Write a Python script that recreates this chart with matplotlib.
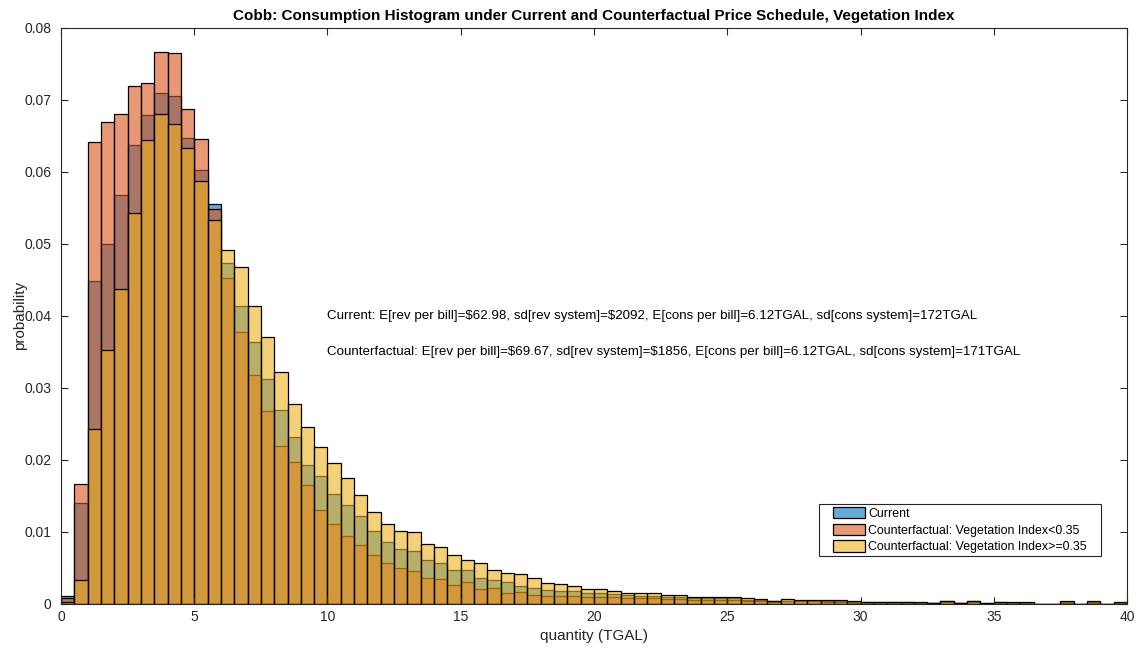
import numpy as np
import matplotlib
matplotlib.use("Agg")
import matplotlib.pyplot as plt
from matplotlib.patches import Rectangle

# ---------------- data ----------------
bin_width = 0.5
bin_start = 0.0
n_bins = 80

current = [
    0.0011, 0.0140, 0.0448, 0.0500, 0.0568, 0.0637, 0.0679, 0.0710, 0.0706, 0.0647,
    0.0602, 0.0556, 0.0474, 0.0413, 0.0363, 0.0312, 0.0269, 0.0231, 0.0193, 0.0177,
    0.0152, 0.0137, 0.0122, 0.0101, 0.0086, 0.0076, 0.0073, 0.0060, 0.0056, 0.0047,
    0.0047, 0.0035, 0.0033, 0.0030, 0.0025, 0.0022, 0.0019, 0.0018, 0.0017, 0.0015,
    0.0015, 0.0013, 0.0012, 0.0011, 0.0010, 0.0009, 0.0009, 0.0007, 0.0007, 0.0007,
    0.0007, 0.0005, 0.0005, 0.0003, 0.0004, 0.0004, 0.0004, 0.0003, 0.0003, 0.0002,
    0.0002, 0.0002, 0.0002, 0.0002, 0.0001, 0.0001, 0.0003, 0.0001, 0.0003, 0.0001,
    0.0002, 0.0001, 0.0001, 0.0000, 0.0000, 0.0002, 0.0000, 0.0002, 0.0000, 0.0001,
]

cf_low = [
    0.0007, 0.0166, 0.0642, 0.0669, 0.0681, 0.0720, 0.0723, 0.0766, 0.0765, 0.0688,
    0.0645, 0.0549, 0.0452, 0.0378, 0.0317, 0.0268, 0.0219, 0.0197, 0.0165, 0.0130,
    0.0110, 0.0094, 0.0081, 0.0068, 0.0057, 0.0049, 0.0045, 0.0036, 0.0034, 0.0026,
    0.0030, 0.0020, 0.0021, 0.0014, 0.0016, 0.0012, 0.0010, 0.0010, 0.0010, 0.0009,
    0.0009, 0.0009, 0.0008, 0.0007, 0.0007, 0.0006, 0.0006, 0.0005, 0.0005, 0.0005,
    0.0005, 0.0004, 0.0003, 0.0002, 0.0003, 0.0003, 0.0003, 0.0002, 0.0002, 0.0001,
    0.0001, 0.0001, 0.0001, 0.0001, 0.0001, 0.0001, 0.0002, 0.0001, 0.0002, 0.0000,
    0.0001, 0.0001, 0.0001, 0.0000, 0.0000, 0.0001, 0.0000, 0.0001, 0.0000, 0.0001,
]

cf_high = [
    0.0002, 0.0033, 0.0243, 0.0352, 0.0437, 0.0543, 0.0644, 0.0681, 0.0666, 0.0633,
    0.0587, 0.0533, 0.0491, 0.0468, 0.0413, 0.0370, 0.0322, 0.0277, 0.0246, 0.0217,
    0.0196, 0.0174, 0.0151, 0.0127, 0.0111, 0.0101, 0.0099, 0.0083, 0.0078, 0.0068,
    0.0061, 0.0056, 0.0046, 0.0043, 0.0041, 0.0035, 0.0028, 0.0027, 0.0024, 0.0020,
    0.0020, 0.0017, 0.0015, 0.0015, 0.0014, 0.0012, 0.0012, 0.0009, 0.0009, 0.0009,
    0.0009, 0.0007, 0.0006, 0.0004, 0.0006, 0.0005, 0.0005, 0.0005, 0.0005, 0.0003,
    0.0002, 0.0002, 0.0002, 0.0002, 0.0002, 0.0001, 0.0004, 0.0001, 0.0004, 0.0001,
    0.0002, 0.0002, 0.0002, 0.0000, 0.0000, 0.0003, 0.0000, 0.0003, 0.0000, 0.0002,
]

series_labels = ["Current",
                 "Counterfactual: Vegetation Index<0.35",
                 "Counterfactual: Vegetation Index>=0.35"]

title = "Cobb: Consumption Histogram under Current and Counterfactual Price Schedule, Vegetation Index"
xlabel = "quantity (TGAL)"
ylabel = "probability"
note_current = ("Current: E[rev per bill]=$62.98, sd[rev system]=$2092, "
                "E[cons per bill]=6.12TGAL, sd[cons system]=172TGAL")
note_cf = ("Counterfactual: E[rev per bill]=$69.67, sd[rev system]=$1856, "
           "E[cons per bill]=6.12TGAL, sd[cons system]=171TGAL")

xticks = [0, 5, 10, 15, 20, 25, 30, 35, 40]
yticks = [0, 0.01, 0.02, 0.03, 0.04, 0.05, 0.06, 0.07, 0.08]
ytick_labels = ["0", "0.01", "0.02", "0.03", "0.04", "0.05", "0.06", "0.07", "0.08"]

# ---------------- style ----------------
plt.rcParams['font.family'] = ['Liberation Sans', 'DejaVu Sans']
axis_col = (0.15, 0.15, 0.15)
colors = [(0.0, 0.447, 0.741), (0.850, 0.325, 0.098), (0.929, 0.694, 0.125)]
face_alpha = 0.6

fig = plt.figure(figsize=(11.42, 6.54), dpi=100)
ax = fig.add_axes([0.0534, 0.0772, 0.9335, 0.8800])

left_edges = bin_start + bin_width * np.arange(n_bins)
for vals, col, lab in zip([current, cf_low, cf_high], colors, series_labels):
    ax.bar(left_edges, vals, width=bin_width, align='edge',
           facecolor=(*col, face_alpha), edgecolor='black', linewidth=0.9,
           label=lab)

ax.set_xlim(0, 40)
ax.set_ylim(0, 0.08)
ax.set_xticks(xticks)
ax.set_yticks(yticks)
ax.set_yticklabels(ytick_labels)
ax.tick_params(direction='in', length=5, width=0.8, colors=axis_col,
               labelsize=10, top=True, right=True, labelcolor=axis_col)
ax.tick_params(axis='x', pad=5)
ax.tick_params(axis='y', pad=7)
for sp in ax.spines.values():
    sp.set_color(axis_col)
    sp.set_linewidth(0.8)

ax.set_title(title, fontsize=11, fontweight='bold', color='black', pad=6)
ax.set_xlabel(xlabel, fontsize=11, color=axis_col, labelpad=3)
ax.set_ylabel(ylabel, fontsize=11, color=axis_col)
ax.yaxis.set_label_coords(-0.032, 0.5)

ax.text(10, 0.04, note_current, fontsize=9.65, va='center', ha='left',
        color='black', parse_math=False)
ax.text(10, 0.035, note_cf, fontsize=9.65, va='center', ha='left',
        color='black', parse_math=False)

# legend: content placed inside a manually drawn frame (wide side padding)
leg = ax.legend(loc='upper right', bbox_to_anchor=(1087 / 1142, 1 - 507 / 654),
                bbox_transform=fig.transFigure,
                borderaxespad=0, fontsize=8.9, frameon=False,
                handlelength=2.6, handleheight=1.05, handletextpad=0.3,
                labelspacing=0.3, borderpad=0.0)
fig.canvas.draw()
bb = leg.get_window_extent()
padx, pady = 14, 3
inv = fig.transFigure.inverted()
(x0, y0) = inv.transform((bb.x0 - padx, bb.y0 - pady))
(x1, y1) = inv.transform((bb.x1 + padx, bb.y1 + pady))
fig.patches.append(Rectangle((x0, y0), x1 - x0, y1 - y0, transform=fig.transFigure,
                             facecolor='white', edgecolor=axis_col, linewidth=0.8,
                             zorder=4))
leg.set_zorder(5)
leg.remove()
fig.legends.append(leg)
leg.set_figure(fig)

fig.savefig("out.png", dpi=100)
